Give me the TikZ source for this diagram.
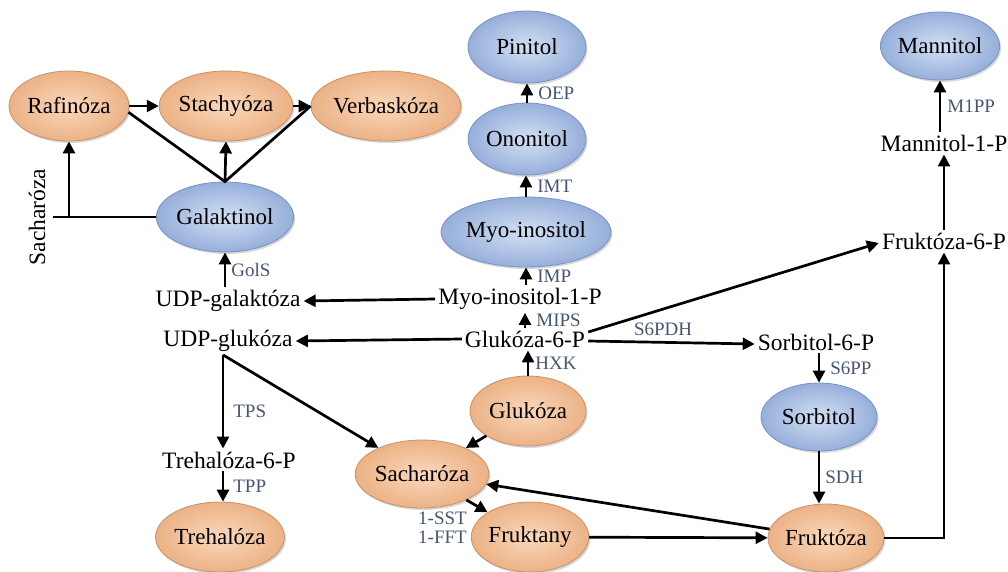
\documentclass[tikz,border=0pt]{standalone}
\usepackage{fontspec}
\setmainfont{Liberation Serif}
\usetikzlibrary{shapes.geometric,arrows.meta,shadows}
\definecolor{orcore}{HTML}{FBD8BB}
\definecolor{orrim}{HTML}{EBB286}
\definecolor{ordraw}{HTML}{C99166}
\definecolor{blcore}{HTML}{D3E0F4}
\definecolor{blrim}{HTML}{96AFDA}
\definecolor{bldraw}{HTML}{7893C2}
\definecolor{lblcol}{HTML}{465672}
\begin{document}
\begin{tikzpicture}[x=1pt,y=-1pt,
  ellbase/.style={ellipse, inner sep=0pt, minimum width=118pt, minimum height=70pt,
    font=\fontsize{23}{27}\selectfont, line width=0.8pt,
    drop shadow={shadow xshift=1.5pt, shadow yshift=-2pt, opacity=0.25, fill=black!60}},
  oell/.style={ellbase, draw=ordraw, inner color=orcore, outer color=orrim},
  bell/.style={ellbase, draw=bldraw, inner color=blcore, outer color=blrim},
  txt/.style={inner sep=3pt, font=\fontsize{23.5}{27}\selectfont},
  lbl/.style={inner sep=0pt, text=lblcol, font=\fontsize{19}{20}\selectfont},
  ln/.style={line width=2.7pt, line cap=butt},
  arr/.style={ln, -{Triangle[length=12pt,width=12pt]}}
]
\useasboundingbox (0,0) rectangle (1008,571);

% orange ellipses
\node[oell, minimum width=120pt] (raf) at (69,106) {Rafinóza};
\node[oell] (sta) at (226,106) {Stachyóza};
\node[oell, minimum width=124pt] (ver) at (386,106) {Verbaskóza};
\node[oell, minimum width=116pt] (glu) at (528,411) {Glukóza};
\node[oell, minimum width=120pt, minimum height=68pt] (sach) at (422,474) {Sacharóza};
\node[oell, minimum width=116pt] (tre) at (220,537) {Trehalóza};
\node[oell, minimum width=116pt] (fkt) at (530,537) {Fruktany};
\node[oell, minimum width=116pt, minimum height=68pt] (fru) at (826,538) {Fruktóza};

% blue ellipses
\node[bell] (gal) at (225,217) {Galaktinol};
\node[bell, minimum height=72pt] (pin) at (527,47) {Pinitol};
\node[bell, minimum height=72pt] (ono) at (527,139) {Ononitol};
\node[bell, minimum width=138pt] (myo) at (526,232) {Myo-inositol};
\node[bell, minimum width=112pt, minimum height=68pt] (man) at (940,46) {Mannitol};
\node[bell, minimum width=116pt, minimum height=68pt] (sor) at (819,417) {Sorbitol};

% text nodes
\node[txt] (udpgal) at (228,301) {UDP-galaktóza};
\node[txt] (udpglu) at (228,341) {UDP-glukóza};
\node[txt] (myo1p) at (520,299) {Myo-inositol-1-P};
\node[txt] (g6p) at (525,339) {Glukóza-6-P};
\node[txt] (s6p) at (816,342) {Sorbitol-6-P};
\node[txt] (t6p) at (229,460) {Trehalóza-6-P};
\node[txt] (m1p) at (944,143) {Mannitol-1-P};
\node[txt] (f6p) at (944,241) {Fruktóza-6-P};
\node[txt, rotate=90] (sachl) at (37,217) {Sacharóza};

% top row
\draw[arr] (raf) -- (sta);
\draw[arr] (sta) -- (ver);
\draw[ln, line join=miter] (raf.-6) -- (gal.north) -- (ver.west);
\draw[arr] (gal.north) -- (sta.south);
\coordinate (sl) at (53,217);
\draw[ln] (sl) -- (gal.west);
\draw[arr] (raf.south |- gal.west) -- (raf.south);

% left column
\draw[arr] (gal.south |- udpgal.north) -- (gal.south) node[lbl, midway, right=5pt] {GolS};
\draw[arr] (myo1p.west) -- (udpgal.east);
\draw[arr] (g6p.west) -- (udpglu.east);
\coordinate (ug) at ([xshift=-5pt]udpglu.south);
\draw[arr] (ug) -- (ug |- t6p.north) node[lbl, pos=0.6, right=9pt] {TPS};
\draw[arr] (ug) -- (sach);
\coordinate (tg) at ([xshift=-6pt]t6p.south);
\draw[arr] (tg) -- (tg |- tre.north) node[lbl, midway, right=9pt] {TPP};

% central column
\draw[arr] (glu.north) -- (glu.north |- g6p.south) node[lbl, midway, right=6pt] {HXK};
\draw[arr] (g6p.north) -- (g6p.north |- myo1p.south) node[lbl, midway, right=10pt] {MIPS};
\draw[arr] (myo1p.north -| myo.south) -- (myo.south) node[lbl, midway, right=10pt] {IMP};
\draw[arr] (myo.north) -- (myo.north |- ono.south) node[lbl, midway, right=10pt] {IMT};
\draw[arr] (ono.north) -- (ono.north |- pin.south) node[lbl, midway, right=10pt] {OEP};

% right side
\draw[arr] ([yshift=7pt]g6p.east) -- ([yshift=-2pt]f6p.west);
\draw[arr] ([yshift=-2pt]g6p.east) -- ([yshift=-2pt]s6p.west) node[lbl, pos=0.45, above=5pt] {S6PDH};
\draw[arr] (s6p.south -| sor.north) -- (sor.north) node[lbl, midway, right=10pt] {S6PP};
\draw[arr] (sor.south) -- (sor.south |- fru.north) node[lbl, midway, right=5pt] {SDH};
\draw[arr] (fru.east) -- (fru.east -| f6p.south) -- (f6p.south);
\draw[arr] (f6p.north) -- (f6p.north |- m1p.south);
\draw[arr] (m1p.north -| man.south) -- (man.south) node[lbl, midway, right=6pt] {M1PP};

% bottom
\draw[arr] (glu) -- (sach);
\draw[arr] (sach) -- (fkt);
\draw[arr] (fkt) -- (fru);
\draw[arr] (fru) -- (sach);
\node[lbl, align=right, anchor=east, font=\fontsize{19}{19}\selectfont] (sst) at (467,528) {1-SST\\1-FFT};
\end{tikzpicture}
\end{document}
